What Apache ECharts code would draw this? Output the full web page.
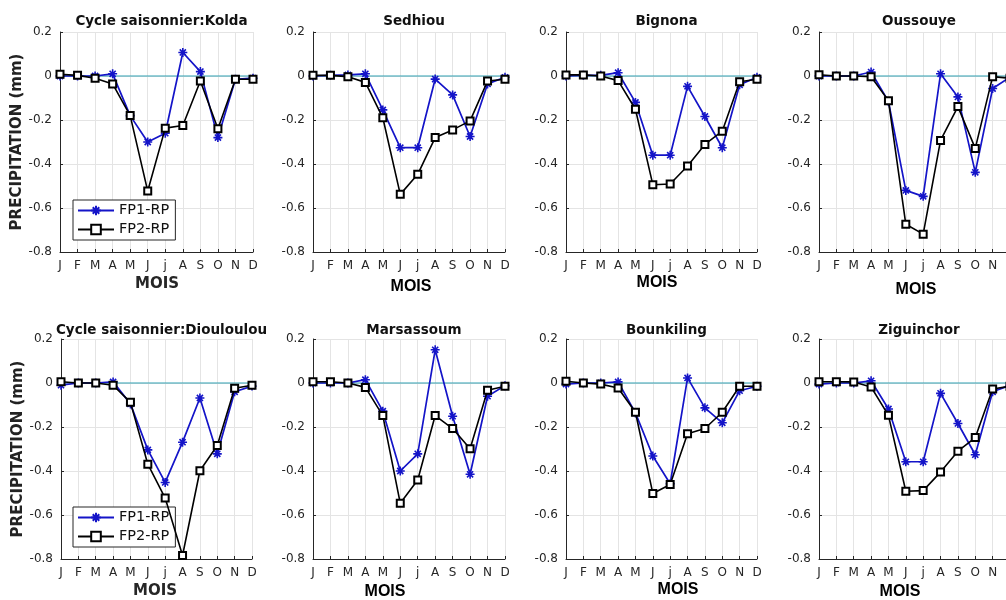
<!DOCTYPE html>
<html>
<head>
<meta charset="utf-8">
<script src="https://cdn.jsdelivr.net/npm/echarts@6/dist/echarts.min.js"></script>
<style>
  html, body { margin: 0; padding: 0; background: #fff; }
  #chart { width: 1006px; height: 600px; }
</style>
</head>
<body>
<div id="chart"></div>
<script>
// Month ticks and y-axis ticks
const MONTHS = ['J', 'F', 'M', 'A', 'M', 'J', 'j', 'A', 'S', 'O', 'N', 'D'];
const Y_TICKS = [-0.8, -0.6, -0.4, -0.2, 0, 0.2];
const SERIES_NAMES = ['FP1-RP', 'FP2-RP'];

// Precipitation change per station (mm)
const koldaFP1 = [0, 0, 0, 0.01, -0.18, -0.30, -0.26, 0.107, 0.02, -0.28, -0.015, -0.01];
const koldaFP2 = [0.008, 0.003, -0.01, -0.036, -0.18, -0.523, -0.237, -0.225, -0.023, -0.24, -0.015, -0.015];

const sedhiouFP1 = [0, 0.003, 0.005, 0.01, -0.154, -0.326, -0.326, -0.014, -0.086, -0.275, -0.036, -0.006];
const sedhiouFP2 = [0.003, 0.003, -0.003, -0.029, -0.19, -0.538, -0.447, -0.28, -0.245, -0.204, -0.023, -0.015];

const bignonaFP1 = [0, 0.003, 0.003, 0.015, -0.12, -0.36, -0.36, -0.047, -0.184, -0.326, -0.04, -0.006];
const bignonaFP2 = [0.005, 0.005, 0, -0.021, -0.151, -0.494, -0.491, -0.409, -0.311, -0.251, -0.026, -0.015];

const oussouyeFP1 = [0, 0, 0, 0.018, -0.116, -0.52, -0.547, 0.01, -0.095, -0.438, -0.057, -0.005];
const oussouyeFP2 = [0.006, 0, 0, -0.003, -0.112, -0.674, -0.719, -0.293, -0.139, -0.329, -0.003, -0.01];

const dioulouFP1 = [-0.01, 0, 0, 0.005, -0.095, -0.304, -0.452, -0.269, -0.068, -0.322, -0.04, -0.014];
const dioulouFP2 = [0.006, 0, 0, -0.01, -0.088, -0.369, -0.523, -0.784, -0.399, -0.284, -0.024, -0.01];

const marsassoumFP1 = [0, 0, 0, 0.015, -0.128, -0.40, -0.322, 0.151, -0.151, -0.415, -0.06, -0.012];
const marsassoumFP2 = [0.006, 0.006, 0, -0.02, -0.148, -0.547, -0.441, -0.148, -0.207, -0.299, -0.033, -0.015];

const bounkilingFP1 = [-0.005, 0, 0, 0.005, -0.136, -0.332, -0.458, 0.023, -0.113, -0.181, -0.035, -0.015];
const bounkilingFP2 = [0.008, 0, -0.005, -0.023, -0.133, -0.502, -0.461, -0.231, -0.207, -0.133, -0.015, -0.015];

const ziguinchorFP1 = [-0.005, 0, 0, 0.01, -0.118, -0.358, -0.358, -0.047, -0.184, -0.326, -0.04, -0.01];
const ziguinchorFP2 = [0.006, 0.006, 0.005, -0.018, -0.147, -0.492, -0.489, -0.405, -0.31, -0.248, -0.027, -0.015];

const STATIONS = ['Cycle saisonnier:Kolda', 'Sedhiou', 'Bignona', 'Oussouye',
                  'Cycle saisonnier:Diouloulou', 'Marsassoum', 'Bounkiling', 'Ziguinchor'];
const FP1 = [koldaFP1, sedhiouFP1, bignonaFP1, oussouyeFP1, dioulouFP1, marsassoumFP1, bounkilingFP1, ziguinchorFP1];
const FP2 = [koldaFP2, sedhiouFP2, bignonaFP2, oussouyeFP2, dioulouFP2, marsassoumFP2, bounkilingFP2, ziguinchorFP2];

// Panel layout: plot boxes in pixels (right column runs past the canvas edge)
const GRIDS = [
  { left: 60,  top: 32,  width: 193, height: 220 },
  { left: 313, top: 32,  width: 192, height: 220 },
  { left: 566, top: 32,  width: 191, height: 220 },
  { left: 819, top: 32,  width: 191, height: 220 },
  { left: 61,  top: 339, width: 191, height: 220 },
  { left: 313, top: 339, width: 192, height: 220 },
  { left: 566, top: 339, width: 191, height: 220 },
  { left: 819, top: 339, width: 191, height: 220 }
];
// "MOIS" label anchors
const XLABEL_POS = [[157, 284], [411, 287], [657, 283], [916, 290], [155, 591], [385, 592], [678, 590], [900, 592]];

const BLUE = '#1414c8';
const BLACK = '#000000';
const AXIS = '#262626';
const ZERO = '#2f9fb2';
const ASTERISK = 'path://M5 0L5 10M0 5L10 5M1.6 1.6L8.4 8.4M1.6 8.4L8.4 1.6';

const grid = [], xAxis = [], yAxis = [], series = [], title = [], graphic = [];

STATIONS.forEach((name, i) => {
  const g = GRIDS[i];
  grid.push(Object.assign({ containLabel: false, outerBoundsMode: 'none' }, g));

  const cx = g.left + (i % 4 === 3 ? 95 : g.width / 2);
  title.push({
    text: name,
    left: cx,
    top: i < 4 ? 9 : 318,
    textAlign: 'center',
    textStyle: { fontFamily: 'DejaVu Sans', fontWeight: 'bold', fontSize: 13.5, color: '#111' }
  });

  xAxis.push({
    type: 'value', gridIndex: i, min: 0, max: MONTHS.length - 1, interval: 1,
    axisLine: { show: true, onZero: false, lineStyle: { color: AXIS, width: 1 } },
    axisTick: { show: true, inside: true, length: 3, lineStyle: { color: AXIS } },
    axisLabel: { margin: 8, color: AXIS, fontFamily: 'DejaVu Sans', fontSize: 12,
                 formatter: v => MONTHS[Math.round(v)] || '' },
    splitLine: { show: true, lineStyle: { color: '#e4e4e4', width: 1 } }
  });

  const yAx = {
    type: 'value', gridIndex: i, min: Y_TICKS[0], max: Y_TICKS[Y_TICKS.length - 1], interval: 0.2,
    axisLine: { show: true, onZero: false, lineStyle: { color: AXIS, width: 1 } },
    axisTick: { show: true, inside: true, length: 3, lineStyle: { color: AXIS } },
    axisLabel: { margin: 8, color: AXIS, fontFamily: 'DejaVu Sans', fontSize: 12,
                 formatter: v => String(+v.toFixed(1)) },
    splitLine: { show: true, lineStyle: { color: '#e4e4e4', width: 1 } }
  };
  if (i === 0 || i === 4) {
    yAx.name = 'PRECIPITATION (mm)';
    yAx.nameLocation = 'middle';
    yAx.nameGap = 34;
    yAx.nameTextStyle = { fontFamily: 'DejaVu Sans', fontWeight: 'bold', fontSize: 15, color: '#222' };
  }
  yAxis.push(yAx);

  // zero reference line across the whole year
  series.push({
    name: 'zero', type: 'line', xAxisIndex: i, yAxisIndex: i,
    data: [[0, 0], [MONTHS.length - 1, 0]],
    symbol: 'none', silent: true,
    lineStyle: { color: ZERO, width: 1.2 },
    z: 2
  });
  series.push({
    name: SERIES_NAMES[0], type: 'line', xAxisIndex: i, yAxisIndex: i,
    data: FP1[i].map((v, k) => [k, v]),
    symbol: ASTERISK, symbolSize: 9, showAllSymbol: true,
    lineStyle: { color: BLUE, width: 1.7 },
    itemStyle: { color: BLUE, borderColor: BLUE, borderWidth: 1.6 },
    z: 3
  });
  series.push({
    name: SERIES_NAMES[1], type: 'line', xAxisIndex: i, yAxisIndex: i,
    data: FP2[i].map((v, k) => [k, v]),
    symbol: 'emptyRect', symbolSize: 7, showAllSymbol: true,
    lineStyle: { color: BLACK, width: 1.6 },
    itemStyle: { color: BLACK, borderColor: BLACK, borderWidth: 1.4 },
    z: 4
  });

  const p = XLABEL_POS[i];
  const firstCol = (i === 0 || i === 4);
  graphic.push({
    type: 'text', x: p[0], y: p[1],
    style: {
      text: 'MOIS', align: 'center', verticalAlign: 'middle',
      font: firstCol ? 'bold 15px "DejaVu Sans"' : 'bold 16px "Liberation Sans"',
      fill: firstCol ? '#262626' : '#000'
    }
  });
});

const legendBase = {
  data: SERIES_NAMES, orient: 'vertical', left: 73,
  backgroundColor: '#fff', borderColor: AXIS, borderWidth: 1,
  padding: [3, 6, 3, 4], itemWidth: 36, itemHeight: 12, itemGap: 4,
  selectedMode: false,
  textStyle: { fontFamily: 'DejaVu Sans', fontSize: 14.5, color: '#111', padding: [0, 0, 0, 0] }
};

const chart = echarts.init(document.getElementById('chart'), null, { renderer: 'canvas' });
chart.setOption({
  backgroundColor: '#fff',
  animation: false,
  title, grid, xAxis, yAxis, series, graphic,
  legend: [
    Object.assign({}, legendBase, { top: 200 }),
    Object.assign({}, legendBase, { top: 507 })
  ]
});
</script>
</body>
</html>
